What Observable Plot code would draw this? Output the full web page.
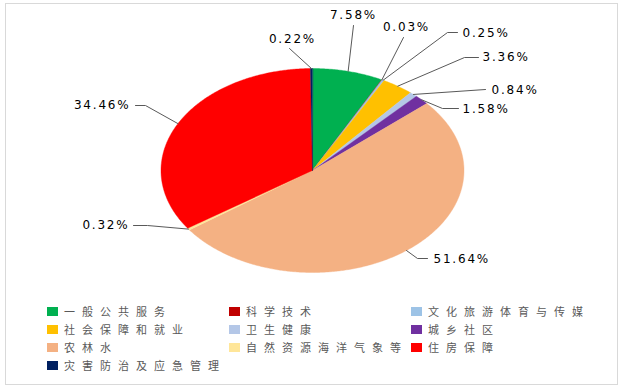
<!DOCTYPE html>
<html>
<head>
<meta charset="utf-8">
<script src="https://cdn.jsdelivr.net/npm/d3@7"></script>
<script src="https://cdn.jsdelivr.net/npm/@observablehq/plot@0.6"></script>
<style>
body{margin:0;background:#fff;}
#wrap{position:relative;width:625px;height:390px;overflow:hidden;background:#fff;}
#frame{position:absolute;left:5px;top:3px;width:613px;height:382px;border:1px solid #d9d9d9;box-sizing:border-box;}
#chart{position:absolute;left:0;top:0;}
#chart text{letter-spacing:1.8px;}
#legend{position:absolute;left:0;top:0;width:625px;height:390px;}
.item{position:absolute;display:flex;align-items:center;height:14px;font-family:"Noto Sans CJK SC",sans-serif;font-size:11px;color:#595959;letter-spacing:7px;white-space:nowrap;}
.sw{width:11px;height:9px;margin-right:6px;flex:none;}
</style>
</head>
<body>
<div id="wrap">
  <div id="frame"></div>
  <div id="chart"></div>
  <div id="legend"></div>
</div>
<script>
// ---- data ----
const categories = ["一般公共服务","科学技术","文化旅游体育与传媒","社会保障和就业","卫生健康","城乡社区","农林水","自然资源海洋气象等","住房保障","灾害防治及应急管理"];
const shares = [7.58, 0.03, 0.25, 3.36, 0.84, 1.58, 51.64, 0.32, 34.46, 0.22];
const shareLabels = ["7.58%","0.03%","0.25%","3.36%","0.84%","1.58%","51.64%","0.32%","34.46%","0.22%"];
const colors = ["#00B050","#C00000","#9DC3E6","#FFC000","#B4C7E7","#7030A0","#F4B183","#FFE699","#FF0000","#002060"];

// ---- layout ----
const W = 625, H = 290;
const cx = 312, cy = 170, rx = 151.5, ry = 102;
const toX = px => (px - cx) / rx;
const toY = py => (cy - py) / ry;
// leader elbows / ends and label anchors (pixel positions of annotations)
const labelLayout = [
  {pts:[[353,25]], text:[353,15], anchor:"middle"},
  {pts:[[403,37]], text:[406,27], anchor:"middle"},
  {pts:[[447,32],[457,32]], text:[462,33], anchor:"start"},
  {pts:[[464,57],[478,57]], text:[482,57], anchor:"start"},
  {pts:[[485,89]], text:[491,90], anchor:"start"},
  {pts:[[442,108],[458,108]], text:[462,109], anchor:"start"},
  {pts:[[417,258],[427,258]], text:[433,259], anchor:"start"},
  {pts:[[147,225],[133,225]], text:[129,225], anchor:"end"},
  {pts:[[145,105],[135,105]], text:[130,105], anchor:"end"},
  {pts:[[289,48]], text:[292,39], anchor:"middle"}
];

// ---- pie geometry ----
const arcs = d3.pie().sort(null).startAngle(0).endAngle(2*Math.PI)(shares);
const slicePts = [];
arcs.forEach((a, i) => {
  const cat = categories[i];
  slicePts.push({cat, x:0, y:0});
  const n = Math.max(2, Math.ceil((a.endAngle - a.startAngle) / (Math.PI/360)));
  for (let k = 0; k <= n; k++) {
    const t = a.startAngle + (a.endAngle - a.startAngle) * k / n;
    slicePts.push({cat, x:Math.sin(t), y:Math.cos(t)});
  }
});

const leaderPts = [];
const labelPts = [];
arcs.forEach((a, i) => {
  const m = (a.startAngle + a.endAngle) / 2;
  const L = labelLayout[i];
  leaderPts.push({id:i, x:Math.sin(m), y:Math.cos(m)});
  L.pts.forEach(p => leaderPts.push({id:i, x:toX(p[0]), y:toY(p[1])}));
  labelPts.push({text:shareLabels[i], x:toX(L.text[0]), y:toY(L.text[1]), anchor:L.anchor});
});

const textOpts = anchor => ({
  x:"x", y:"y", text:"text", textAnchor:anchor,
  fill:"#000", fontSize:12, fontFamily:"DejaVu Sans, sans-serif"
});

const chart = Plot.plot({
  width: W, height: H,
  marginLeft: cx - rx, marginRight: W - (cx + rx),
  marginTop: cy - ry, marginBottom: H - (cy + ry),
  x: {domain:[-1,1], axis:null},
  y: {domain:[-1,1], axis:null},
  color: {type:"ordinal", domain:categories, range:colors},
  marks: [
    Plot.line(slicePts, {x:"x", y:"y", z:"cat", fill:"cat", stroke:"cat", strokeWidth:0.4, curve:"linear-closed"}),
    Plot.line(leaderPts, {x:"x", y:"y", z:"id", stroke:"#595959", strokeWidth:1}),
    Plot.text(labelPts.filter(d => d.anchor==="start"), textOpts("start")),
    Plot.text(labelPts.filter(d => d.anchor==="middle"), textOpts("middle")),
    Plot.text(labelPts.filter(d => d.anchor==="end"), textOpts("end"))
  ]
});
document.getElementById("chart").appendChild(chart);

// ---- legend (3 columns) ----
const legend = document.getElementById("legend");
const colX = [47, 229, 411];
const rowY = [311, 329, 347, 365];
categories.forEach((c, i) => {
  const el = document.createElement("div");
  el.className = "item";
  el.style.left = colX[i % 3] + "px";
  el.style.top = (rowY[Math.floor(i / 3)] - 7) + "px";
  const sw = document.createElement("span");
  sw.className = "sw";
  sw.style.background = colors[i];
  el.appendChild(sw);
  el.appendChild(document.createTextNode(c));
  legend.appendChild(el);
});
</script>
</body>
</html>
